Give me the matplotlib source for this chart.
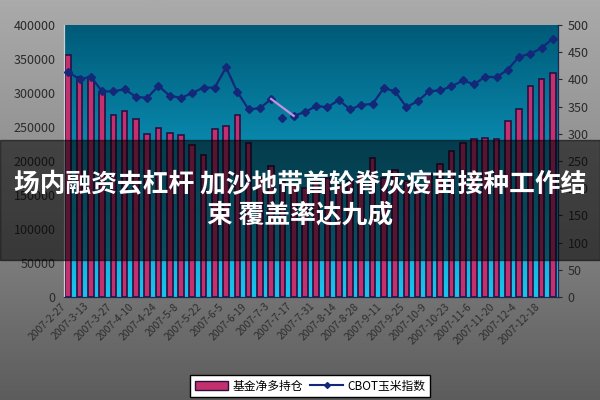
import numpy as np
import matplotlib.pyplot as plt
from matplotlib.colors import LinearSegmentedColormap
from matplotlib.patches import Rectangle, Patch
from matplotlib.lines import Line2D

plt.rcParams['font.family'] = ['Noto Sans CJK SC', 'DejaVu Sans']

# 基金净多持仓 (left axis)
fund_net_long = [356000, 323000, 323000, 300000, 268000, 274000, 262000, 239000,
                 249000, 241000, 238000, 224000, 209000, 247000, 252000, 268000,
                 226000, 175000, 192000, 170000, 165000, 160000, 170000, 175000,
                 165000, 170000, 180000, 205000, 175000, 187000, 170000, 165000,
                 180000, 195000, 215000, 227000, 233000, 234000, 233000, 259000,
                 276000, 311000, 321000, 329000]

# CBOT玉米指数 (right axis)
corn_index = [414, 400, 405, 378, 378, 382, 368, 366, 388, 370, 366, 375,
              385, 385, 422, 377, 345, 347, 364, 329, 333, 340, 351, 349,
              362, 345, 353, 355, 384, 378, 349, 360, 378, 380, 387, 398,
              391, 405, 404, 418, 442, 447, 458, 475]

date_labels = ['2007-2-27', '2007-3-13', '2007-3-27', '2007-4-10', '2007-4-24',
               '2007-5-8', '2007-5-22', '2007-6-5', '2007-6-19', '2007-7-3',
               '2007-7-17', '2007-7-31', '2007-8-14', '2007-8-28', '2007-9-11',
               '2007-9-25', '2007-10-9', '2007-10-23', '2007-11-6', '2007-11-20',
               '2007-12-4', '2007-12-18']

title_line1 = "场内融资去杠杆 加沙地带首轮脊灰疫苗接种工作结"
title_line2 = "束 覆盖率达九成"

fig = plt.figure(figsize=(6, 4), dpi=100)

# grey gradient background
bg = fig.add_axes([0, 0, 1, 1], zorder=-10)
bg_cmap = LinearSegmentedColormap.from_list('bg', ['#aaaaaa', '#8a8a8a', '#5c5c5c'])
bg.imshow(np.linspace(0, 1, 256).reshape(-1, 1), cmap=bg_cmap, aspect='auto',
          extent=[0, 1, 0, 1], origin='upper')
bg.axis('off')

ax = fig.add_axes([0.107, 0.2575, 0.823, 0.68])
x = np.arange(len(fund_net_long))
xlim = (-0.36, len(x) - 1 + 0.45)

plot_cmap = LinearSegmentedColormap.from_list('plot', ['#005a78', '#0a8fb4', '#18c4ee'])
ax.imshow(np.linspace(0, 1, 256).reshape(-1, 1), cmap=plot_cmap, aspect='auto',
          extent=[xlim[0], xlim[1], 0, 400000], origin='upper', zorder=0)

ax.bar(x, fund_net_long, width=0.5, color='#c4306e', edgecolor='#2a1040',
       linewidth=1.2, zorder=2)
ax.set_xlim(*xlim)
ax.set_ylim(0, 400000)
ax.set_yticks(np.arange(0, 400001, 50000))
ax.set_xticks(x[::2])
ax.set_xticklabels(date_labels, rotation=45, ha='right', fontsize=7.5, color='#2e2e2e')
ax.tick_params(axis='y', labelsize=9, colors='#2a2a2a', length=0, pad=6)
ax.tick_params(axis='x', length=0, pad=3)

ax2 = ax.twinx()
ax2.set_ylim(0, 500)
ax2.set_yticks(np.arange(0, 501, 50))
ax2.tick_params(axis='y', labelsize=9, colors='#2a2a2a', length=3, pad=4)

line = np.array(corn_index, dtype=float)
gap = 19
main = line.copy()
main[gap] = np.nan
ax2.plot(x, main, color='#14287a', lw=1.6, marker='D', ms=4, zorder=3)
ax2.plot([gap - 1, gap + 1], [line[gap - 1], line[gap + 1]], color='#c890e0', lw=1.6, zorder=3)
ax2.plot([gap], [line[gap]], color='#14287a', marker='D', ms=4, ls='none', zorder=3)

for a in (ax, ax2):
    a.spines['top'].set_visible(False)
    a.spines['left'].set_color('#cfcfcf')
    a.spines['right'].set_color('#1a2a50')
    a.spines['bottom'].set_color('#1a2a50')

handles = [Patch(facecolor='#c4306e', edgecolor='#2a1040', label='基金净多持仓'),
           Line2D([0], [0], color='#14287a', marker='D', ms=3, lw=1.5, label='CBOT玉米指数')]
leg = fig.legend(handles=handles, loc='center', bbox_to_anchor=(0.517, 0.035), ncol=2,
                 fontsize=8.5, frameon=True, fancybox=False, edgecolor='black',
                 framealpha=1, handlelength=2.8, columnspacing=0.6, borderpad=0.35,
                 handletextpad=0.4)

# dark caption band
fig.add_artist(Rectangle((0, 0.35), 1, 0.3, transform=fig.transFigure,
                         color='black', alpha=0.55, zorder=5))
fig.text(0.5, 0.5375, title_line1, ha='center', va='center', color='white',
         fontsize=18.5, fontweight='bold', zorder=6)
fig.text(0.5, 0.4625, title_line2, ha='center', va='center', color='white',
         fontsize=18.5, fontweight='bold', zorder=6)

fig.savefig('out.png', dpi=100)
